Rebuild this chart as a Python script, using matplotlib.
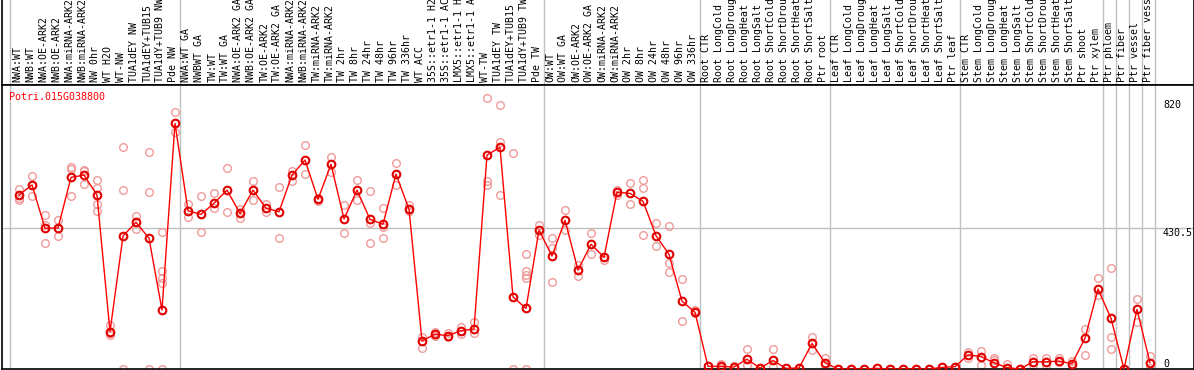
import numpy as np
import matplotlib
matplotlib.use("Agg")
from matplotlib import pyplot as plt

# sample names, in plotting order
samples = [
    "NWA:WT", "NWB:WT", "NWA:OE-ARK2", "NWB:OE-ARK2", "NWA:miRNA-ARK2", "NWB:miRNA-ARK2",
    "NW 0hr", "WT H2O", "WT-NW", "TUA1dEY NW", "TUA1dEY+TUB15", "TUA1dY+TUB9 NW", "Pde NW",
    "NWA:WT GA", "NWBWT GA", "TW:WT", "TW:WT GA", "NWA:OE-ARK2 GA", "NWB:OE-ARK2 GA",
    "TW:OE-ARK2", "TW:OE-ARK2 GA", "NWA:miRNA-ARK2", "NWB:miRNA-ARK2", "TW:miRNA-ARK2",
    "TW:miRNA-ARK2", "TW 2hr", "TW 8hr", "TW 24hr", "TW 48hr", "TW 96hr", "TW 336hr", "WT ACC",
    "35S::etr1-1 H2O", "35S::etr1-1 ACC", "LMX5::etr1-1 H2O", "LMX5::etr1-1 ACC", "WT-TW",
    "TUA1dEY TW", "TUA1dEY+TUB15 TW", "TUA1dY+TUB9 TW", "Pde TW",
    "OW:WT", "OW:WT GA", "OW:OE-ARK2", "OW:OE-ARK2 GA", "OW:miRNA-ARK2", "OW:miRNA-ARK2",
    "OW 2hr", "OW 8hr", "OW 24hr", "OW 48hr", "OW 96hr", "OW 336hr",
    "Root CTR", "Root LongCold", "Root LongDrought", "Root LongHeat", "Root LongSalt",
    "Root ShortCold", "Root ShortDrought", "Root ShortHeat", "Root ShortSalt", "Ptr root",
    "Leaf CTR", "Leaf LongCold", "Leaf LongDrought", "Leaf LongHeat", "Leaf LongSalt",
    "Leaf ShortCold", "Leaf ShortDrought", "Leaf ShortHeat", "Leaf ShortSalt", "Ptr leaf",
    "Stem CTR", "Stem LongCold", "Stem LongDrought", "Stem LongHeat", "Stem LongSalt",
    "Stem ShortCold", "Stem ShortDrought", "Stem ShortHeat", "Stem ShortSalt", "Ptr shoot",
    "Ptr xylem", "Ptr phloem", "Ptr fiber", "Ptr vessel", "Ptr fiber vessel",
]
group_sizes = [13, 28, 12, 10, 10, 11, 1, 1, 1, 1]

means = [
    531, 562, 430, 430, 585, 592, 531, 114, 406, 448, 399, 180, 750,
    483, 472, 506, 546, 475, 546, 491, 480, 592, 638, 518, 625, 458, 546, 457, 442, 595,
    488, 86, 106, 102, 117, 122, 653, 677, 220, 185, 424,
    345, 454, 302, 381, 341, 540, 536, 512, 407, 350, 207, 173,
    8, 8, 6, 30, 3, 26, 2, 3, 78, 19,
    0, 0, 0, 2, 0, 0, 0, 0, 5, 7,
    43, 38, 19, 4, 0, 22, 22, 24, 16, 94, 244,
    155, 0, 182, 19,
]

replicates = [
    [550, 523, 516], [589, 562, 528], [470, 440, 384], [455, 430, 407], [618, 611, 528],
    [608, 603, 564], [577, 554, 503, 483], [134, 109, 104], [677, 546, 0], [467, 448, 427],
    [662, 540, 0], [417, 299, 279, 262, 0], [784, 750, 723],
    [503, 464], [528, 417], [536, 493], [613, 478], [488, 462], [575, 515], [504, 478],
    [555, 399], [605, 574], [684, 595], [523, 513], [648, 601], [501, 414], [576, 516],
    [542, 445, 384], [491, 432, 399], [628, 562], [501, 481], [99, 63], [114, 102],
    [109, 97], [129, 107], [143, 109], [827, 574, 562], [806, 694, 531], [659, 0],
    [350, 299, 287, 277, 0], [440, 409],
    [399, 369, 265], [485, 425], [318, 285], [414, 350], [343, 333], [547, 531],
    [567, 503], [577, 552, 409], [445, 375], [437, 323, 295], [275, 147], [180, 170],
    [8, 8], [16, 2], [2, 10], [60, 12], [3, 3], [60, 9], [2, 2], [3, 3], [97, 58], [33, 12],
    [0, 0], [0, 0], [0, 0], [2, 2], [0, 0], [0, 0], [0, 0], [0, 0], [5, 5], [7, 7],
    [53, 33], [55, 12], [33, 27], [14, 0], [0, 0], [35, 12], [35, 12], [33, 20], [24, 10],
    [121, 43], [277, 226],
    [309, 97, 60], [0, 0], [214, 145], [41, 2],
]

gene_name = "Potri.015G038800"
tick_values = [0, 430.5, 820]

plt.rcParams['font.family'] = 'DejaVu Sans Mono'

W, H = 1194, 370
fig = plt.figure(figsize=(W / 100, H / 100), dpi=100)

x0, x1 = 1.5, 1193.5
xlim = ((x0 - 19) / 13, (x1 - 19) / 13)
ax_lab = fig.add_axes([x0 / W, 1 - 85 / H, (x1 - x0) / W, 85 / H])
ax = fig.add_axes([x0 / W, 1 / H, (x1 - x0) / W, 284 / H])

x = np.arange(len(samples))

# group separators
seps = list(np.cumsum(group_sizes) - 0.6) + [-0.7]
for a in (ax, ax_lab):
    for s in seps:
        a.axvline(s, color='#c0c0c0', lw=1, zorder=0)
    a.set_xlim(*xlim)
    a.set_xticks([])
    a.set_yticks([])
    for sp in a.spines.values():
        sp.set_color('black')
        sp.set_linewidth(1.2)
ax_lab.spines['top'].set_visible(False)

ax_lab.set_ylim(0, 85)
for i, name in enumerate(samples):
    ax_lab.text(x[i] - 0.12, 3, name, rotation=90, ha='center', va='bottom',
                fontsize=7.1, color='black')

ax.set_ylim(0, 867)
ax.axhline(tick_values[1], color='#c0c0c0', lw=1, zorder=0)

# replicate points
for i, reps in enumerate(replicates):
    ax.plot([x[i]] * len(reps), reps, linestyle='none', marker='o', ms=5.5,
            mfc='none', mec='#f09a9a', mew=1.0, zorder=2)

# mean line
ax.plot(x, means, color='red', lw=1, zorder=3)
ax.plot(x, means, linestyle='none', marker='o', ms=5.5, mfc='none',
        mec='#e00000', mew=1.5, zorder=4)

ax.text((9 - x0) / (x1 - x0), 1 - 12 / 284, gene_name, transform=ax.transAxes,
        color='red', fontsize=7.2, va='center', ha='left')

for v in tick_values:
    va = 'bottom' if v == 0 else 'top'
    ax.text(len(samples), v, ("%g" % v), fontsize=7.2, ha='left', va=va, color='black')

fig.savefig("out.png", dpi=100)
